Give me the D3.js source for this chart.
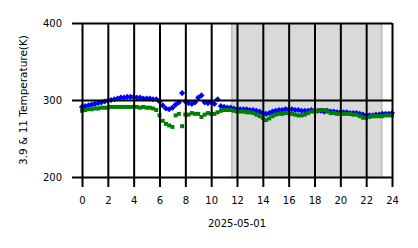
<!DOCTYPE html>
<html>
<head>
<meta charset="utf-8">
<script src="https://cdn.jsdelivr.net/npm/d3@7"></script>
<style>
  body { margin: 0; background: #fff; }
  text { font-family: "DejaVu Sans", sans-serif; }
</style>
</head>
<body>
<div id="chart"></div>
<script>
// samples every 15 minutes, 00:00 to 24:00
const hours = d3.range(0, 24.001, 0.25);

const temp39 = [
  291, 292, 293, 294, 295, 296, 297, 298, 299, 300, 301, 302,
  303, 303, 304, 304, 304, 303, 303, 302, 302, 302, 301, 301,
  298, 293, 289, 288, 290, 294, 297, 309, 298, 296, 295, 297,
  303, 306, 297, 296, 297, 295, 301, 292, 291, 290, 290, 289,
  288, 288, 288, 288, 287, 287, 286, 285, 283, 282, 283, 285,
  286, 287, 287, 288, 288, 288, 287, 287, 286, 286, 286, 287,
  286, 286, 286, 285, 286, 285, 285, 284, 284, 284, 284, 283,
  283, 283, 282, 281, 280, 280, 280, 281, 281, 282, 282, 282,
  283
];

const temp11 = [
  286, 287, 288, 288, 289, 289, 290, 290, 290, 291, 291, 291,
  291, 291, 291, 291, 291, 291, 290, 291, 290, 290, 289, 287,
  280, 273, 269, 267, 265, 280, 282, 266, 281, 281, 283, 282,
  282, 278, 281, 283, 282, 282, 284, 286, 287, 287, 287, 286,
  285, 285, 285, 284, 284, 283, 281, 279, 277, 274, 276, 279,
  281, 282, 282, 283, 283, 282, 281, 280, 280, 281, 283, 285,
  285, 286, 287, 287, 285, 283, 283, 282, 282, 282, 282, 282,
  281, 281, 279, 277, 277, 278, 279, 279, 279, 279, 280, 280,
  280
];

const xTicks = [0, 2, 4, 6, 8, 10, 12, 14, 16, 18, 20, 22, 24];
const yTicks = [200, 300, 400];
const shadeHours = [11.6, 23.2];
const dateLabel = "2025-05-01";
const yLabel = "3.9 & 11 Temperature(K)";

const W = 418, H = 248;
const margin = {left: 82, top: 23, right: 26, bottom: 71};
const width = W - margin.left - margin.right;
const height = H - margin.top - margin.bottom;

const svg = d3.select("#chart")
  .append("svg")
  .attr("width", W)
  .attr("height", H);

const g = svg.append("g")
  .attr("transform", `translate(${margin.left},${margin.top})`);

const x = d3.scaleLinear().domain([0, 24]).range([0, width]);
const y = d3.scaleLinear().domain([200, 400]).range([height, 0]);

// shaded period
g.append("rect")
  .attr("x", x(shadeHours[0]))
  .attr("y", 0)
  .attr("width", x(shadeHours[1]) - x(shadeHours[0]))
  .attr("height", height)
  .attr("fill", "#d9d9d9");
shadeHours.forEach(h => {
  g.append("rect")
    .attr("x", x(h) - 1)
    .attr("y", 0)
    .attr("width", 2)
    .attr("height", height)
    .attr("fill", "#c4c4c4");
});

// data
g.selectAll(".p39")
  .data(hours)
  .enter()
  .append("path")
  .attr("class", "p39")
  .attr("d", d3.symbol(d3.symbolSquare, 19))
  .attr("transform", (d, i) => `translate(${x(d)},${y(temp39[i])}) rotate(45)`)
  .attr("fill", "#0000ff");

g.selectAll(".p11")
  .data(hours)
  .enter()
  .append("rect")
  .attr("class", "p11")
  .attr("x", d => x(d) - 2)
  .attr("y", (d, i) => y(temp11[i]) - 2)
  .attr("width", 4)
  .attr("height", 4)
  .attr("fill", "#008000");

// grid
const xGrid = g.append("g")
  .attr("transform", `translate(0,${height})`)
  .call(d3.axisBottom(x).tickValues(xTicks).tickSize(-height).tickFormat(""));
const yGrid = g.append("g")
  .call(d3.axisLeft(y).tickValues(yTicks).tickSize(-width).tickFormat(""));
[xGrid, yGrid].forEach(s => {
  s.select(".domain").remove();
  s.selectAll("line").attr("stroke", "#000").attr("stroke-width", 2);
});

// axes
const xAxis = g.append("g")
  .attr("transform", `translate(0,${height})`)
  .call(d3.axisBottom(x).tickValues(xTicks).tickSize(10).tickPadding(10).tickFormat(d => d));
const yAxis = g.append("g")
  .call(d3.axisLeft(y).tickValues(yTicks).tickSize(10).tickPadding(10));
[xAxis, yAxis].forEach(s => {
  s.select(".domain").remove();
  s.selectAll("line").attr("stroke", "#000").attr("stroke-width", 2);
  s.selectAll("text")
    .attr("fill", "#000")
    .style("font-size", "10px")
    .style("font-family", "DejaVu Sans");
});

svg.append("text")
  .attr("x", margin.left + width / 2)
  .attr("y", 227)
  .attr("text-anchor", "middle")
  .style("font-size", "10px")
  .text(dateLabel);

svg.append("text")
  .attr("transform", `translate(27,${margin.top + height / 2}) rotate(-90)`)
  .attr("text-anchor", "middle")
  .style("font-size", "10.5px")
  .text(yLabel);
</script>
</body>
</html>
